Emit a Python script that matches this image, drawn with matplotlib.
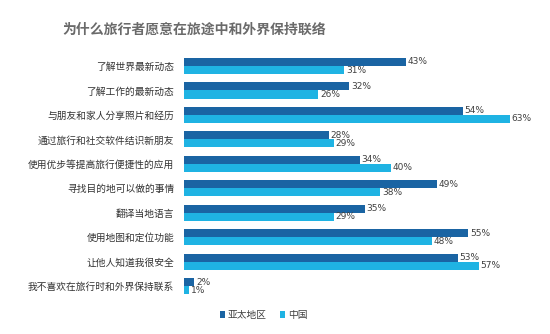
import matplotlib
matplotlib.use("Agg")
import matplotlib.pyplot as plt
import numpy as np

plt.rcParams['font.family'] = ['Noto Sans CJK SC', 'DejaVu Sans']

categories = ["了解世界最新动态", "了解工作的最新动态", "与朋友和家人分享照片和经历",
              "通过旅行和社交软件结识新朋友", "使用优步等提高旅行便捷性的应用",
              "寻找目的地可以做的事情", "翻译当地语言", "使用地图和定位功能",
              "让他人知道我很安全", "我不喜欢在旅行时和外界保持联系"]
apac = [43, 32, 54, 28, 34, 49, 35, 55, 53, 2]
china = [31, 26, 63, 29, 40, 38, 29, 48, 57, 1]
series_names = ["亚太地区", "中国"]
title = "为什么旅行者愿意在旅途中和外界保持联络"

c_dark = '#1a64a3'
c_light = '#1fb3e3'

fig = plt.figure(figsize=(5.5, 3.34), dpi=100)
ax = fig.add_axes([0.3345, 0.107, 0.658, 0.732])

y = np.arange(len(categories))
h = 0.33
ax.barh(y - h/2, apac, height=h, color=c_dark, label=series_names[0])
ax.barh(y + h/2, china, height=h, color=c_light, label=series_names[1])

for yi, v in zip(y, apac):
    ax.text(v + 0.3, yi - h/2, f"{v}%", va='center', ha='left', fontsize=6.5,
            color='#404040', family=['DejaVu Sans'])
for yi, v in zip(y, china):
    ax.text(v + 0.3, yi + h/2, f"{v}%", va='center', ha='left', fontsize=6.5,
            color='#404040', family=['DejaVu Sans'])

ax.set_xlim(0, 70)
ax.set_ylim(len(categories) - 0.5, -0.5)
ax.set_yticks(y)
ax.set_yticklabels(categories, fontsize=7, color='#333333')
ax.tick_params(axis='y', length=0, pad=7)
ax.set_xticks([])
for s in ax.spines.values():
    s.set_visible(False)

fig.text(62/550, 1 - 30/334, title, fontsize=10, fontweight='bold', color='#6a6a6a',
         va='center', ha='left')

leg = fig.legend(loc='center', bbox_to_anchor=(0.479, 1 - 315/334), ncol=2, frameon=False,
                 fontsize=7, handlelength=0.6, handleheight=0.6, handletextpad=0.25,
                 columnspacing=1.3, labelcolor='#404040')

fig.savefig("out.png", dpi=100)
